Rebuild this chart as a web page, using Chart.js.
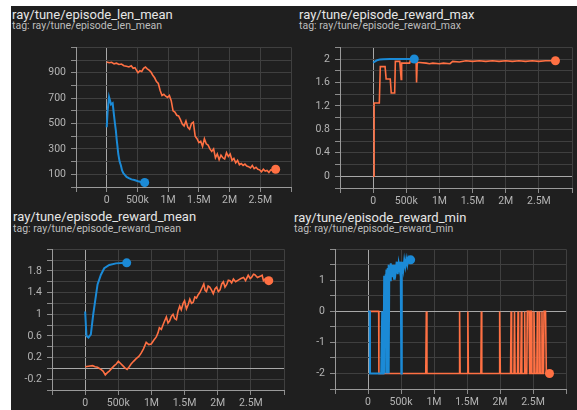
<!DOCTYPE html>
<html>
<head>
<meta charset="utf-8">
<script src="https://cdn.jsdelivr.net/npm/chart.js@4.4.0/dist/chart.umd.min.js"></script>
<style>
  body { margin: 0; background: #fff; width: 577px; height: 410px; overflow: hidden; position: relative; font-family: Roboto, sans-serif; }
  #board { position: absolute; left: 11px; top: 6px; width: 566px; height: 404px; background: #1f1f1f; }
  .title { position: absolute; color: #e6e6e6; font-size: 13px; line-height: 14px; white-space: nowrap; }
  .tag { position: absolute; color: #bdbdbd; font-size: 10.5px; line-height: 12px; white-space: nowrap; }
  canvas { position: absolute; }
</style>
</head>
<body>
<div id="board"></div>

<div class="title" style="left:12px;top:8px">ray/tune/episode_len_mean</div>
<div class="tag" style="left:12px;top:20px">tag: ray/tune/episode_len_mean</div>
<div class="title" style="left:299px;top:8px">ray/tune/episode_reward_max</div>
<div class="tag" style="left:299px;top:20px">tag: ray/tune/episode_reward_max</div>
<div class="title" style="left:13px;top:210px">ray/tune/episode_reward_mean</div>
<div class="tag" style="left:13px;top:223px">tag: ray/tune/episode_reward_mean</div>
<div class="title" style="left:294px;top:211px">ray/tune/episode_reward_min</div>
<div class="tag" style="left:294px;top:223px">tag: ray/tune/episode_reward_min</div>

<canvas id="c1" width="290" height="176" style="left:11px;top:36px"></canvas>
<canvas id="c2" width="287" height="176" style="left:290px;top:36px"></canvas>
<canvas id="c3" width="285" height="172" style="left:11px;top:238px"></canvas>
<canvas id="c4" width="281" height="172" style="left:296px;top:238px"></canvas>

<script>
// steps are in thousands
const lenBlueSteps = [0, 15, 38, 55, 70, 97, 115, 134, 150, 161, 175, 188, 210, 231, 250, 269, 295, 323, 360, 403, 450, 511, 560, 618];
const lenBlueVals  = [470, 600, 710, 680, 650, 660, 580, 500, 440, 380, 320, 260, 200, 170, 130, 110, 95, 80, 70, 60, 55, 45, 40, 35];
const lenOrangeSteps = [0, 40, 80, 120, 160, 200, 240, 280, 320, 360, 400, 430, 460, 490, 510, 540, 570, 600, 630, 660, 690, 720, 750, 780, 810, 840, 870, 900, 930, 960, 990, 1020, 1050, 1080, 1110, 1140, 1170, 1200, 1230, 1260, 1290, 1320, 1350, 1380, 1410, 1440, 1470, 1500, 1530, 1560, 1590, 1620, 1650, 1680, 1710, 1740, 1770, 1800, 1830, 1860, 1890, 1920, 1950, 1980, 2010, 2040, 2070, 2100, 2130, 2160, 2190, 2220, 2250, 2280, 2310, 2340, 2370, 2400, 2430, 2460, 2490, 2520, 2550, 2580, 2610, 2640, 2670, 2700, 2730, 2750];
const lenOrangeVals  = [985, 978, 982, 970, 975, 965, 968, 955, 950, 945, 955, 935, 940, 915, 900, 915, 910, 935, 945, 930, 920, 905, 880, 860, 830, 815, 760, 720, 730, 715, 705, 720, 680, 600, 590, 565, 560, 530, 495, 480, 520, 470, 455, 500, 510, 400, 380, 350, 360, 320, 380, 340, 330, 300, 280, 300, 230, 260, 215, 250, 230, 220, 270, 240, 260, 210, 225, 190, 210, 175, 185, 170, 180, 165, 160, 150, 170, 145, 155, 140, 135, 120, 140, 125, 130, 115, 135, 130, 145, 140];

const maxBlueSteps = [0, 30, 60, 100, 150, 250, 350, 450, 550, 620];
const maxBlueVals  = [1.94, 1.96, 1.98, 1.99, 1.995, 2.0, 2.0, 2.0, 2.0, 2.0];
const maxOrangeSteps = [0, 15, 15, 93, 108, 180, 196, 258, 273, 325, 335, 402, 423, 430, 440, 551, 562, 634, 648, 655, 665, 700, 800, 850, 900, 1000, 1060, 1160, 1200, 1300, 1400, 1500, 1600, 1700, 1800, 1900, 2000, 2100, 2200, 2300, 2400, 2500, 2600, 2700, 2750];
const maxOrangeVals  = [0, 0, 1.25, 1.25, 1.87, 1.87, 1.66, 1.66, 1.42, 1.42, 1.96, 1.96, 1.65, 1.93, 1.93, 1.93, 1.98, 1.98, 1.98, 1.6, 1.94, 1.94, 1.93, 1.92, 1.93, 1.92, 1.93, 1.92, 1.96, 1.95, 1.97, 1.96, 1.97, 1.96, 1.97, 1.96, 1.97, 1.96, 1.97, 1.96, 1.97, 1.96, 1.97, 1.97, 1.97];

const meanBlueSteps = [0, 20, 50, 86, 121, 162, 187, 238, 288, 364, 466, 627];
const meanBlueVals  = [1.05, 0.6, 0.57, 0.63, 0.99, 1.34, 1.55, 1.73, 1.85, 1.91, 1.94, 1.95];
const meanOrangeSteps = [0, 50, 111, 150, 187, 238, 270, 304, 335, 364, 400, 440, 470, 501, 535, 567, 600, 633, 665, 693, 730, 770, 810, 845, 880, 921, 960, 997, 1035, 1073, 1100, 1120, 1150, 1174, 1200, 1225, 1250, 1275, 1300, 1326, 1350, 1377, 1400, 1427, 1450, 1478, 1500, 1528, 1555, 1579, 1605, 1630, 1655, 1680, 1705, 1730, 1760, 1790, 1810, 1830, 1855, 1880, 1905, 1933, 1960, 1984, 2010, 2035, 2060, 2085, 2110, 2136, 2160, 2186, 2210, 2237, 2270, 2310, 2350, 2390, 2420, 2460, 2490, 2510, 2540, 2560, 2600, 2640, 2670, 2690, 2720, 2770];
const meanOrangeVals  = [0.03, 0.04, 0.05, 0.03, 0.02, -0.02, -0.05, -0.12, -0.08, -0.05, 0.0, 0.05, 0.08, 0.13, 0.09, 0.05, 0.01, -0.02, 0.03, 0.08, 0.13, 0.18, 0.22, 0.28, 0.36, 0.48, 0.44, 0.45, 0.52, 0.58, 0.66, 0.75, 0.72, 0.8, 0.88, 0.95, 0.84, 0.88, 0.96, 1.0, 0.92, 0.9, 1.05, 1.15, 1.08, 1.2, 1.25, 1.1, 1.18, 1.28, 1.2, 1.22, 1.32, 1.3, 1.36, 1.4, 1.48, 1.56, 1.44, 1.42, 1.52, 1.5, 1.45, 1.38, 1.47, 1.5, 1.42, 1.45, 1.56, 1.6, 1.5, 1.55, 1.63, 1.62, 1.58, 1.65, 1.6, 1.63, 1.66, 1.68, 1.62, 1.72, 1.66, 1.68, 1.74, 1.73, 1.68, 1.7, 1.72, 1.62, 1.66, 1.62];

const minBlueSteps = [0, 25, 30, 200, 215, 220, 235, 245, 252, 258, 265, 272, 280, 286, 292, 298, 304, 310, 316, 322, 330, 338, 345, 355, 365, 375, 385, 395, 405, 420, 435, 450, 465, 480, 495, 505, 512, 520, 535, 550, 565, 580, 595, 610, 625, 646];
const minBlueVals  = [0, 0, -2, -2, 0, -2, -2, 1.15, -2, 0.6, 1.2, 0.8, 1.35, -2, 1.0, 1.4, 0.9, 1.5, -2, 1.1, 1.45, 1.0, 1.55, 1.2, 1.5, 1.1, 1.4, 1.05, 1.5, 1.3, 1.6, 1.2, 1.55, 1.35, 1.6, -2, 1.3, 1.6, 1.35, 1.65, 1.45, 1.68, 1.5, 1.7, 1.6, 1.66];
const minOrangeSteps = [0, 162, 165, 875, 884, 893, 1380, 1388, 1396, 1505, 1513, 1521, 1710, 1717, 1724, 1985, 1995, 2005, 2160, 2168, 2176, 2212, 2220, 2228, 2265, 2273, 2281, 2315, 2323, 2331, 2366, 2374, 2382, 2406, 2414, 2440, 2449, 2457, 2467, 2475, 2483, 2507, 2515, 2530, 2558, 2566, 2574, 2593, 2601, 2609, 2628, 2636, 2644, 2659, 2667, 2690, 2702, 2750];
const minOrangeVals  = [0, 0, -2, -2, 0, -2, -2, 0, -2, -2, 0, -2, -2, 0, -2, -2, 0, -2, -2, 0, -2, -2, 0, -2, -2, 0, -2, -2, 0, -2, -2, 0, -2, -2, 0, 0, -2, -2, 0, 0, -2, -2, 0, -2, -2, 0, -2, -2, 0, -2, -2, 0, -2, -2, 0, 0, -2, -2];

const BLUE = '#1b8ad6';
const ORANGE = '#ff7043';

function pts(steps, vals) {
  return steps.map((s, i) => ({ x: s * 1000, y: vals[i] }));
}

function lastDot(ctx) {
  return ctx.dataIndex === ctx.dataset.data.length - 1 ? 4.5 : 0;
}

function xLabel(v) {
  if (v < 0 || v >= 3000000) return '';
  if (v === 0) return '0';
  if (v < 1000000) return (v / 1000) + 'k';
  return (v / 1000000) + 'M';
}

function gridColor(ctx) {
  const v = ctx.tick ? ctx.tick.value : 1;
  return Math.abs(v) < 1e-9 ? '#a8a8a8' : '#3f3f3f';
}

function makePanel(id, blue, orange, yOpts, box) {
  new Chart(document.getElementById(id), {
    type: 'line',
    data: {
      datasets: [
        { data: blue, borderColor: BLUE, backgroundColor: BLUE, borderWidth: 2, pointRadius: lastDot, pointBorderWidth: 0, tension: 0 },
        { data: orange, borderColor: ORANGE, backgroundColor: ORANGE, borderWidth: 1.6, pointRadius: lastDot, pointBorderWidth: 0, tension: 0 }
      ]
    },
    options: {
      responsive: false,
      animation: false,
      devicePixelRatio: 1,
      layout: { padding: { left: 0, right: box.right, top: box.top, bottom: 0 } },
      plugins: { legend: { display: false }, tooltip: { enabled: false } },
      scales: {
        x: {
          type: 'linear',
          min: -500000,
          max: 3000000,
          afterFit: s => { s.height = box.bottom; },
          ticks: { stepSize: 500000, autoSkip: false, maxRotation: 0, color: '#b4b4b4', font: { family: 'Roboto', size: 10.5 }, padding: 2, callback: xLabel },
          grid: { color: gridColor, tickColor: '#8c8c8c', tickLength: 5, lineWidth: 1 },
          border: { display: true, color: '#9a9a9a', width: 1 }
        },
        y: {
          type: 'linear',
          min: yOpts.min,
          max: yOpts.max,
          afterFit: s => { s.width = box.left; },
          ticks: { stepSize: yOpts.step, autoSkip: false, color: '#b4b4b4', font: { family: 'Roboto', size: 10.5 }, padding: 5, callback: yOpts.label },
          grid: { color: gridColor, tickColor: '#8c8c8c', tickLength: 5, lineWidth: 1 },
          border: { display: true, color: '#9a9a9a', width: 1 }
        }
      }
    }
  });
}

makePanel('c1', pts(lenBlueSteps, lenBlueVals), pts(lenOrangeSteps, lenOrangeVals), {
  min: 0, max: 1100, step: 100,
  label: v => { const r = Math.round(v); return (r % 200 === 100 && r < 1100) ? String(r) : ''; }
}, { left: 65, right: 10, top: 4, bottom: 25 });

makePanel('c2', pts(maxBlueSteps, maxBlueVals), pts(maxOrangeSteps, maxOrangeVals), {
  min: -0.2, max: 2.2, step: 0.2,
  label: v => { const r = Math.round(v * 10); return (r >= 0 && r <= 20 && r % 4 === 0) ? String(r / 10) : ''; }
}, { left: 50, right: 5, top: 5, bottom: 24 });

makePanel('c3', pts(meanBlueSteps, meanBlueVals), pts(meanOrangeSteps, meanOrangeVals), {
  min: -0.4, max: 2.2, step: 0.2,
  label: v => { const r = Math.round(v * 10); return (r > -4 && r < 22 && (r + 2) % 4 === 0) ? String(r / 10) : ''; }
}, { left: 41, right: 12, top: 5, bottom: 20 });

makePanel('c4', pts(minBlueSteps, minBlueVals), pts(minOrangeSteps, minOrangeVals), {
  min: -2.5, max: 2, step: 0.5,
  label: v => { const r = Math.round(v * 10); return (r % 10 === 0 && r > -25 && r < 20) ? String(r / 10) : ''; }
}, { left: 39, right: 11, top: 5, bottom: 21 });
</script>
</body>
</html>
